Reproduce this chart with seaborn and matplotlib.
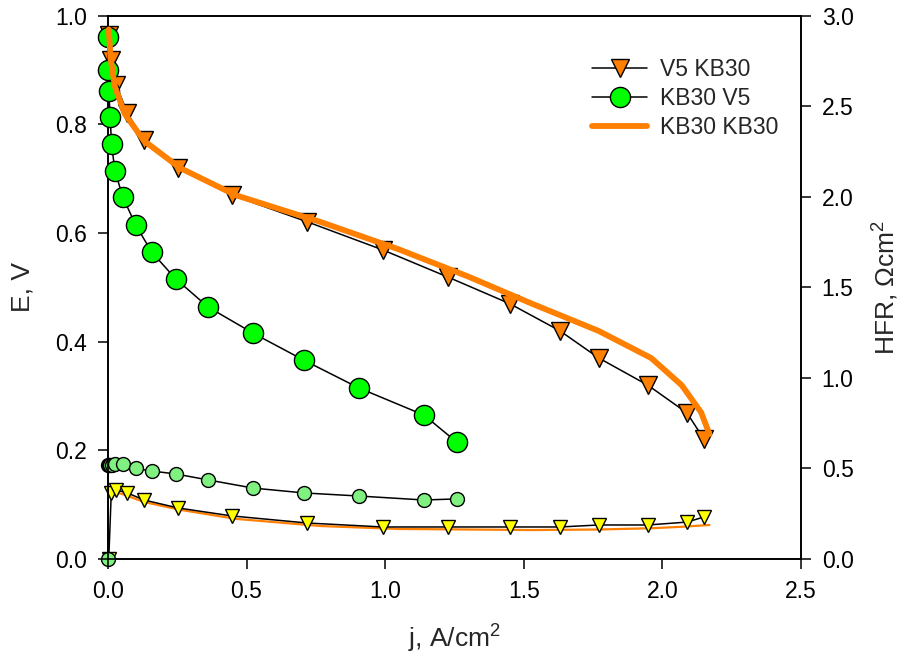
import matplotlib
matplotlib.use("Agg")
import matplotlib.pyplot as plt
import seaborn as sns
import pandas as pd

# Polarization curves (left axis, E in V) and HFR (right axis, Ohm cm^2)
j_v5kb30 = [0.003, 0.012, 0.03, 0.07, 0.13, 0.253, 0.447, 0.718, 0.992, 1.227,
            1.45, 1.631, 1.771, 1.948, 2.089, 2.15]
e_v5kb30 = [0.965, 0.919, 0.873, 0.821, 0.772, 0.72, 0.67, 0.621, 0.569, 0.519,
            0.47, 0.42, 0.37, 0.32, 0.269, 0.221]
hfr_v5kb30 = [0.0, 0.365, 0.381, 0.365, 0.326, 0.282, 0.238, 0.199, 0.177, 0.177,
              0.177, 0.177, 0.188, 0.188, 0.204, 0.232]

j_kb30v5 = [0.0, 0.001, 0.003, 0.008, 0.013, 0.025, 0.054, 0.10, 0.158, 0.244,
            0.361, 0.523, 0.707, 0.905, 1.14, 1.259]
e_kb30v5 = [0.961, 0.90, 0.862, 0.814, 0.764, 0.715, 0.666, 0.615, 0.565, 0.516,
            0.464, 0.416, 0.366, 0.315, 0.265, 0.215]
hfr_kb30v5 = [0.0, 0.52, 0.52, 0.52, 0.52, 0.525, 0.525, 0.50, 0.486, 0.47,
              0.437, 0.392, 0.365, 0.348, 0.326, 0.332]

j_kb30kb30 = [0.003, 0.01, 0.025, 0.06, 0.13, 0.26, 0.46, 0.77, 1.05, 1.30,
              1.53, 1.77, 1.96, 2.07, 2.14, 2.17]
e_kb30kb30 = [0.975, 0.92, 0.87, 0.82, 0.77, 0.72, 0.67, 0.62, 0.57, 0.52,
              0.47, 0.42, 0.37, 0.32, 0.27, 0.23]
hfr_kb30kb30 = [0.35, 0.34, 0.37, 0.355, 0.315, 0.272, 0.222, 0.182, 0.166, 0.163,
                0.160, 0.163, 0.170, 0.178, 0.185, 0.188]

labels = ["V5 KB30", "KB30 V5", "KB30 KB30"]
x_ticks = [0.0, 0.5, 1.0, 1.5, 2.0, 2.5]
e_ticks = [0.0, 0.2, 0.4, 0.6, 0.8, 1.0]
hfr_ticks = [0.0, 0.5, 1.0, 1.5, 2.0, 2.5, 3.0]

sns.set_style("ticks")
plt.rcParams["font.family"] = ["Liberation Sans", "DejaVu Sans"]
plt.rcParams["mathtext.fontset"] = "custom"
plt.rcParams["mathtext.rm"] = "Liberation Sans"

fig = plt.figure(figsize=(9.07, 6.6), dpi=100)
ax = fig.add_axes([0.119, 0.153, 0.764, 0.823])
ax2 = ax.twinx()

ORANGE = "#FF7F00"
GREEN = "#00FF00"
LIGHT_GREEN = "#80F080"
YELLOW = "#FFFF00"

pol_v5 = pd.DataFrame({"j": j_v5kb30, "E": e_v5kb30, "HFR": hfr_v5kb30})
pol_kb = pd.DataFrame({"j": j_kb30v5, "E": e_kb30v5, "HFR": hfr_kb30v5})
pol_kk = pd.DataFrame({"j": j_kb30kb30, "E": e_kb30kb30, "HFR": hfr_kb30kb30})

common = dict(estimator=None, sort=False, legend=False, clip_on=False)

# HFR on the right axis
sns.lineplot(data=pol_kk, x="j", y="HFR", ax=ax2, color=ORANGE, lw=1.6,
             zorder=2, **common)
sns.lineplot(data=pol_v5, x="j", y="HFR", ax=ax2, color="black", lw=1.1,
             marker="v", markersize=10, markerfacecolor=YELLOW,
             markeredgecolor="black", markeredgewidth=1.0, zorder=3, **common)
sns.lineplot(data=pol_kb, x="j", y="HFR", ax=ax2, color="black", lw=1.1,
             marker="o", markersize=10, markerfacecolor=LIGHT_GREEN,
             markeredgecolor="black", markeredgewidth=1.0, zorder=4, **common)

# Polarization on the left axis
sns.lineplot(data=pol_v5, x="j", y="E", ax=ax, color="black", lw=1.1,
             marker="v", markersize=13.5, markerfacecolor=ORANGE,
             markeredgecolor="black", markeredgewidth=1.0, zorder=3,
             label=labels[0], estimator=None, sort=False, clip_on=False)
sns.lineplot(data=pol_kb, x="j", y="E", ax=ax, color="black", lw=1.1,
             marker="o", markersize=14.5, markerfacecolor=GREEN,
             markeredgecolor="black", markeredgewidth=1.0, zorder=3,
             label=labels[1], estimator=None, sort=False, clip_on=False)
sns.lineplot(data=pol_kk, x="j", y="E", ax=ax, color=ORANGE, lw=4.2,
             zorder=4, label=labels[2], estimator=None, sort=False,
             clip_on=False)

ax.set_zorder(ax2.get_zorder() + 1)
ax.patch.set_visible(False)

ax.set_xlim(0.0, 2.5)
ax.set_ylim(0.0, 1.0)
ax2.set_ylim(0.0, 3.0)
ax.set_xticks(x_ticks)
ax.set_xticklabels([f"{v:.1f}" for v in x_ticks])
ax.set_yticks(e_ticks)
ax.set_yticklabels([f"{v:.1f}" for v in e_ticks])
ax2.set_yticks(hfr_ticks)
ax2.set_yticklabels([f"{v:.1f}" for v in hfr_ticks])

for a in (ax, ax2):
    for s in a.spines.values():
        s.set_linewidth(1.2)
        s.set_color("black")
    a.tick_params(direction="out", length=7, width=1.1, labelsize=16.5,
                  colors="black", pad=8)
ax.spines["right"].set_visible(True)
ax.spines["top"].set_visible(True)

ax.set_xlabel("j, A/cm$^2$", fontsize=19, labelpad=13)
ax.set_ylabel("E, V", fontsize=19, labelpad=15)
ax2.set_ylabel("HFR, \u03a9cm$^2$", fontsize=19, labelpad=11)
ax2.set_xlabel("")

ax.legend(loc="upper right", bbox_to_anchor=(0.997, 0.96), frameon=False,
          fontsize=16.5, handlelength=2.4, handletextpad=0.55, labelspacing=0.25)

fig.savefig("out.png", dpi=100)
